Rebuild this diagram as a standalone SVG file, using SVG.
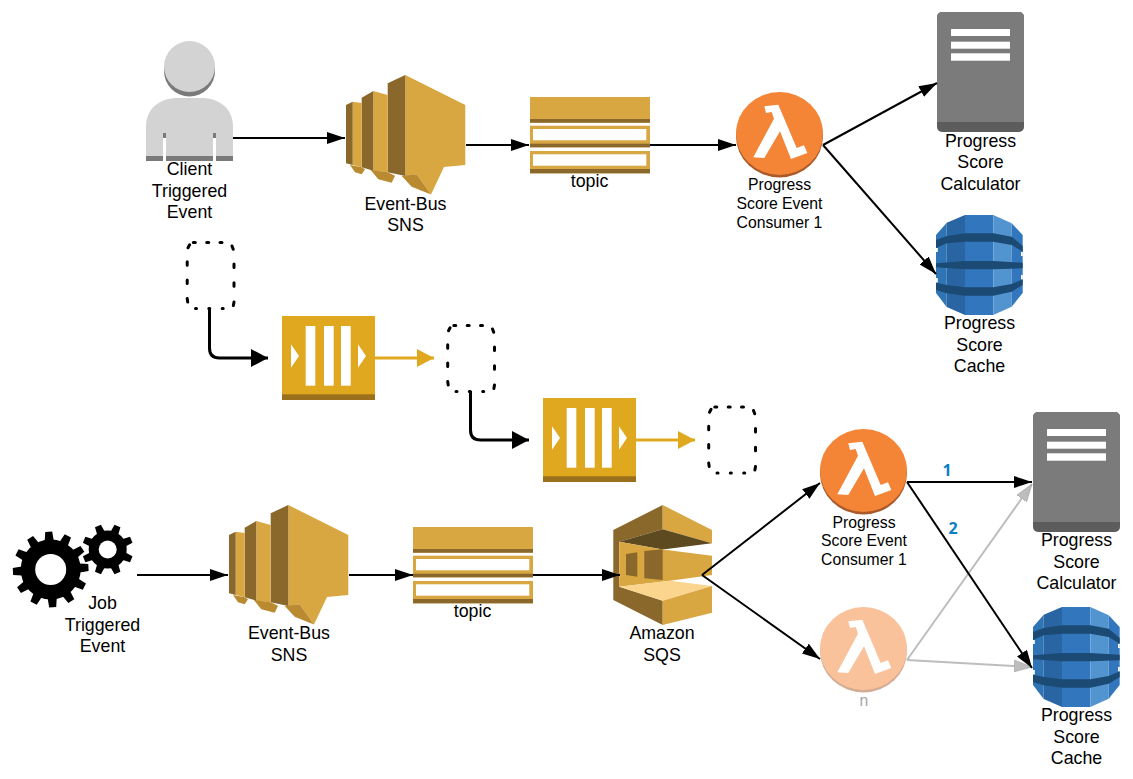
<svg xmlns="http://www.w3.org/2000/svg" xmlns:xlink="http://www.w3.org/1999/xlink" width="1133" height="779" viewBox="0 0 1133 779">
<style>
text{font-family:"Liberation Sans",Arial,sans-serif;font-size:17.8px;fill:#000;text-anchor:middle}
.s{font-size:15.75px}
.num{font-family:"Open Sans","Liberation Sans",sans-serif;font-size:16px;font-weight:700;fill:#0b7ec4}
.grey{fill:#a6a6a6}
.c{fill:none;stroke:#000;stroke-width:2;marker-end:url(#a)}
.g{fill:none;stroke:#bdbdbd;stroke-width:2;marker-end:url(#ag)}
.t{fill:none;stroke:#000;stroke-width:3;marker-end:url(#ab)}
.o{fill:none;stroke:#e0a81e;stroke-width:3;marker-end:url(#ao)}
.d{fill:none;stroke:#000;stroke-width:3;stroke-linecap:round}
.y{fill:#d9a741}.yd{fill:#8a682b}.yf{fill:#b98a30}
.q{fill:#e0a81e}.qd{fill:#9a701c}
.w{fill:#fff}
</style>
<defs>
<marker id="a" markerUnits="userSpaceOnUse" viewBox="0 0 18 12" refX="18" refY="6" markerWidth="18" markerHeight="12" orient="auto"><path d="M0 0L18 6L0 12Z" fill="#000"/></marker>
<marker id="ag" markerUnits="userSpaceOnUse" viewBox="0 0 18 12" refX="18" refY="6" markerWidth="18" markerHeight="12" orient="auto"><path d="M0 0L18 6L0 12Z" fill="#bdbdbd" stroke="#a0a0a0" stroke-width=".6"/></marker>
<marker id="ab" markerUnits="userSpaceOnUse" viewBox="0 0 17 18" refX="17" refY="9" markerWidth="17" markerHeight="18" orient="auto"><path d="M0 0L17 9L0 18Z" fill="#000"/></marker>
<marker id="ao" markerUnits="userSpaceOnUse" viewBox="0 0 17 18" refX="17" refY="9" markerWidth="17" markerHeight="18" orient="auto"><path d="M0 0L17 9L0 18Z" fill="#e0a81e"/></marker>

<g id="sns">
<polygon class="y" points="59.3,0 119.3,30 119.3,90 98,92 85,119.5 70.700,99.300 59.300,101"/>
<polygon class="yf" points="55.7,101 70.7,99.3 85,119.5 65.7,111.7"/>
<polygon class="yd" points="41.7,8.3 59.3,0 59.3,101 41.7,97.300"/>
<polygon class="y" points="27.3,16 41.7,20 41.7,97.300 27.3,95.700"/>
<polygon class="yf" points="24.7,95 41.7,97.300 49,100.700 45.700,107.700 32.300,104.300"/>
<polygon class="yd" points="15.700,22.700 27.3,16 27.3,95.700 15.700,92.300"/>
<polygon class="y" points="6.7,26.7 15.700,28 15.700,92.300 6.7,90"/>
<polygon class="yf" points="4,90 15.700,92.300 19,94.300 15.700,99.300 9,97.300"/>
<polygon class="yd" points="0,30 6.7,26.7 6.7,90 0,88.300"/>
</g>
<g id="topic">
<rect class="y" x="0" y="0" width="120" height="25.7"/><rect class="yd" x="0" y="22" width="120" height="3.7"/>
<rect class="y" x="0" y="28.7" width="120" height="21.6"/><rect class="yd" x="0" y="46.7" width="120" height="3.6"/><rect class="w" x="3" y="32" width="113.3" height="11.3"/>
<rect class="y" x="0" y="54" width="120" height="22.3"/><rect class="yd" x="0" y="72" width="120" height="4.3"/><rect class="w" x="3" y="57.3" width="113.3" height="11.4"/>
</g>
<polygon id="lg" class="w" points="28.3,14.3 42.3,12.7 60.7,56 68,53.3 71.300,61 55,67 44,39.300 28.3,66 17.3,65.300 38,26.700 35.700,20 30,21"/>
<g id="lam">
<ellipse cx="43.500" cy="44" rx="43.500" ry="41.500" fill="#a9592a"/>
<ellipse cx="43.500" cy="41.500" rx="43.500" ry="41.500" fill="#f58536"/>
<use href="#lg"/>
</g>
<g id="lamf">
<ellipse cx="43.500" cy="44" rx="43.500" ry="41.500" fill="#d4ac94"/>
<ellipse cx="43.500" cy="41.500" rx="43.500" ry="41.500" fill="#fac29a"/>
<use href="#lg"/>
</g>
<g id="srv">
<rect x="0" y="0" width="87" height="120" rx="5" fill="#5c5c5c"/>
<path d="M5 0H82A5 5 0 0 1 87 5V110H0V5A5 5 0 0 1 5 0Z" fill="#7b7b7b"/>
<rect class="w" x="14" y="17" width="59" height="7"/><rect class="w" x="14" y="29.7" width="59" height="7"/><rect class="w" x="14" y="41.3" width="59" height="7.4"/>
</g>
<g id="ddb">
<polygon fill="#2f74b5" points="0,20 10.700,7.700 10.700,92 0,78"/>
<polygon fill="#2a65a3" points="10.700,7.700 29,0 29,100 10.700,92"/>
<rect x="29" y="0" width="28.300" height="100" fill="#3277bd"/>
<polygon fill="#5294cf" points="57.300,0 75.700,8.300 75.700,91.700 57.300,100"/>
<polygon fill="#3277bd" points="75.700,8.300 86.700,20 86.700,78 75.700,91.700"/>
<polygon fill="#1b4a75" points="0,25 10.700,21 29,18.300 57.300,18.300 75.700,21.700 86.700,31 86.700,36.700 75.700,30 57.300,26.700 29,26.700 10.700,28.300 0,33"/>
<polygon fill="#1b4a75" points="0,48.300 29,46 57.300,46 86.700,47.700 86.700,53.300 57.300,54.300 29,54.300 0,52.300"/>
<polygon fill="#1b4a75" points="0,67.700 10.700,70 29,72.300 57.300,72.300 75.700,69 86.700,64.300 86.700,70 75.700,76.700 57.300,80.700 29,80.700 10.700,78.300 0,75"/>
<rect class="w" x="0" y="33" width="1.800" height="4"/><rect class="w" x="85" y="37" width="1.800" height="4"/>
<rect class="w" x="0" y="63" width="1.800" height="4.500"/><rect class="w" x="85" y="60" width="1.800" height="4.300"/>
</g>
<g id="que">
<rect class="q" x="0" y="0" width="93" height="84"/><rect class="qd" x="0" y="78.3" width="93" height="5.7"/>
<rect class="w" x="23.7" y="10" width="9.6" height="59.7"/><rect class="w" x="42" y="10" width="9.7" height="59.7"/><rect class="w" x="59" y="10" width="9.7" height="59.7"/>
<polygon class="w" points="9,28.3 17,40 9,51.7"/><polygon class="w" points="76,28.3 84,40 76,51.7"/>
</g>
<path id="dash" class="d" d="M6.300 0h2M19.700 0h2M33 0h2M45 3.500l1.200 3.300M47 21.500v3.500M47 40.300v3.500M47 59.500l-.6 3.500M8.500 66h1M21.800 66h1M35.200 66h1M.2 19.300v3.500M.2 37.600v3.500M.2 56l.5 3.500M1 5.300l1.600-3"/>
<polygon id="tb" points="-4.500,-29 -3.500,-37.800 3.500,-37.800 4.500,-29 4.500,29 3.500,37.800 -3.500,37.800 -4.500,29"/>
<polygon id="ts" points="-4,-18 -3.200,-25.500 3.200,-25.500 4,-18 4,18 3.200,25.500 -3.200,25.500 -4,18"/>
</defs>

<g id="client">
<circle cx="189.5" cy="71" r="25.5" fill="#7a7a7a"/>
<circle cx="189.5" cy="66.5" r="25.5" fill="#d3d3d3"/>
<path d="M146 161V127C146 108 160 98 178 98H201C219 98 233 108 233 127V161Z" fill="#d3d3d3"/>
<rect x="146" y="156" width="87" height="5" fill="#7a7a7a"/>
<rect x="163" y="133" width="3" height="5" fill="#7a7a7a"/><rect x="213" y="133" width="3" height="5" fill="#7a7a7a"/>
<rect class="w" x="163" y="138" width="3" height="23"/><rect class="w" x="213" y="138" width="3" height="23"/>
<text x="189.5" y="175">Client</text><text x="189.5" y="197">Triggered</text><text x="189.5" y="218">Event</text>
</g>
<g id="sns1"><use href="#sns" x="346" y="75"/><text x="405.5" y="209.5">Event-Bus</text><text x="405.5" y="231">SNS</text></g>
<g id="topic1"><use href="#topic" x="530" y="97"/><text x="589.5" y="187">topic</text></g>
<g id="consumer1"><use href="#lam" x="736" y="92"/><text class="s" x="779.5" y="190">Progress</text><text class="s" x="779.5" y="209">Score Event</text><text class="s" x="779.5" y="227.5">Consumer 1</text></g>
<g id="calc1"><use href="#srv" x="937" y="12"/><text x="980.5" y="146.5">Progress</text><text x="980.5" y="168">Score</text><text x="980.5" y="189.5">Calculator</text></g>
<g id="cache1"><use href="#ddb" x="936" y="215"/><text x="979.5" y="329">Progress</text><text x="979.5" y="351">Score</text><text x="979.5" y="372">Cache</text></g>
<g id="dash1"><use href="#dash" x="187" y="242.5"/></g>
<g id="queue1"><use href="#que" x="282" y="316"/></g>
<g id="dash2"><use href="#dash" x="447.5" y="325.5"/></g>
<g id="queue2"><use href="#que" x="543" y="398"/></g>
<g id="dash3"><use href="#dash" x="708.5" y="407"/></g>
<g id="job">
<circle cx="107.7" cy="549.5" r="14" fill="none" stroke="#000" stroke-width="10"/>
<g transform="translate(107.7 549.500)"><use href="#ts" transform="rotate(22.500)"/><use href="#ts" transform="rotate(67.500)"/><use href="#ts" transform="rotate(112.500)"/><use href="#ts" transform="rotate(157.500)"/></g>
<circle cx="50.7" cy="569.5" r="22.75" fill="none" stroke="#000" stroke-width="14.500"/>
<g transform="translate(50.700 569.500)"><use href="#tb" transform="rotate(-3)"/><use href="#tb" transform="rotate(27)"/><use href="#tb" transform="rotate(57)"/><use href="#tb" transform="rotate(87)"/><use href="#tb" transform="rotate(117)"/><use href="#tb" transform="rotate(147)"/></g>
<circle cx="50.7" cy="569.5" r="15.500" fill="#fff"/>
<circle cx="107.7" cy="549.5" r="9" fill="#fff"/>
<text x="102.5" y="608.5">Job</text><text x="102.5" y="630.5">Triggered</text><text x="102.5" y="652">Event</text>
</g>
<g id="sns2"><use href="#sns" x="229" y="505"/><text x="289" y="639">Event-Bus</text><text x="289" y="661">SNS</text></g>
<g id="topic2"><use href="#topic" x="413" y="527"/><text x="472.5" y="617">topic</text></g>
<g id="sqs">
<polygon class="yd" points="662.7,505 613.3,530 613.3,600 662.7,625 662.7,600.7 619.3,586.7 619.3,541.7 662.7,529.3"/>
<polygon class="y" points="662.7,505 712,530 712,543.3 662.7,529.3"/>
<polygon fill="#5e4a20" points="619.3,541.7 662.7,529.3 712,543.3 662.7,549.5"/>
<polygon class="y" points="619.3,541.7 662.7,549.5 712,555.7 712,575 670,580.7 619.3,586.7"/>
<polygon class="yd" points="626,554 637.3,552.3 637.3,576.7 626,575"/>
<polygon class="yd" points="644.3,551 662.7,549.3 662.7,580 644.3,578.3"/>
<polygon fill="#fbd58e" points="619.3,586.7 670,580.7 712,586 662.7,600.7"/>
<polygon class="y" points="662.7,600.7 712,586 712,612.7 662.7,625"/>
<text x="662" y="639">Amazon</text><text x="662" y="661">SQS</text>
</g>
<g id="consumer2"><use href="#lam" x="820" y="429"/><text class="s" x="864" y="527.5">Progress</text><text class="s" x="864" y="546">Score Event</text><text class="s" x="864" y="564.5">Consumer 1</text></g>
<g id="consumern"><use href="#lamf" x="820" y="607"/><text class="s grey" x="864" y="706">n</text></g>
<g id="calc2"><use href="#srv" x="1033" y="412"/><text x="1076.5" y="546">Progress</text><text x="1076.5" y="568">Score</text><text x="1076.5" y="589">Calculator</text></g>
<g id="cache2"><use href="#ddb" x="1033" y="607"/><text x="1076.5" y="721">Progress</text><text x="1076.5" y="743">Score</text><text x="1076.5" y="764">Cache</text></g>

<g id="connectors">
<path class="c" d="M233 138H345"/>
<path class="c" d="M466 145H529"/>
<path class="c" d="M650 145H736"/>
<path class="c" d="M823 145L937 83"/>
<path class="c" d="M823 145L936 274"/>
<path class="t" d="M209.500 309V348Q209.500 358 219.500 358H268"/>
<path class="o" d="M375 358H434"/>
<path class="t" d="M470.500 391V430Q470.500 440 480.500 440H529"/>
<path class="o" d="M636 440H695"/>
<path class="c" d="M137 575H228"/>
<path class="c" d="M349 575H413"/>
<path class="c" d="M533 575H620"/>
<path class="c" d="M702 575L820 483"/>
<path class="c" d="M702 575L820 659"/>
<path class="g" d="M907 660L1032 484"/>
<path class="g" d="M907 660L1032 667"/>
<path class="c" d="M907 482H1032"/>
<path class="c" d="M907 482L1032 668"/>
<text class="num" x="947" y="476">1</text>
<text class="num" x="953" y="534">2</text>
</g>
</svg>
